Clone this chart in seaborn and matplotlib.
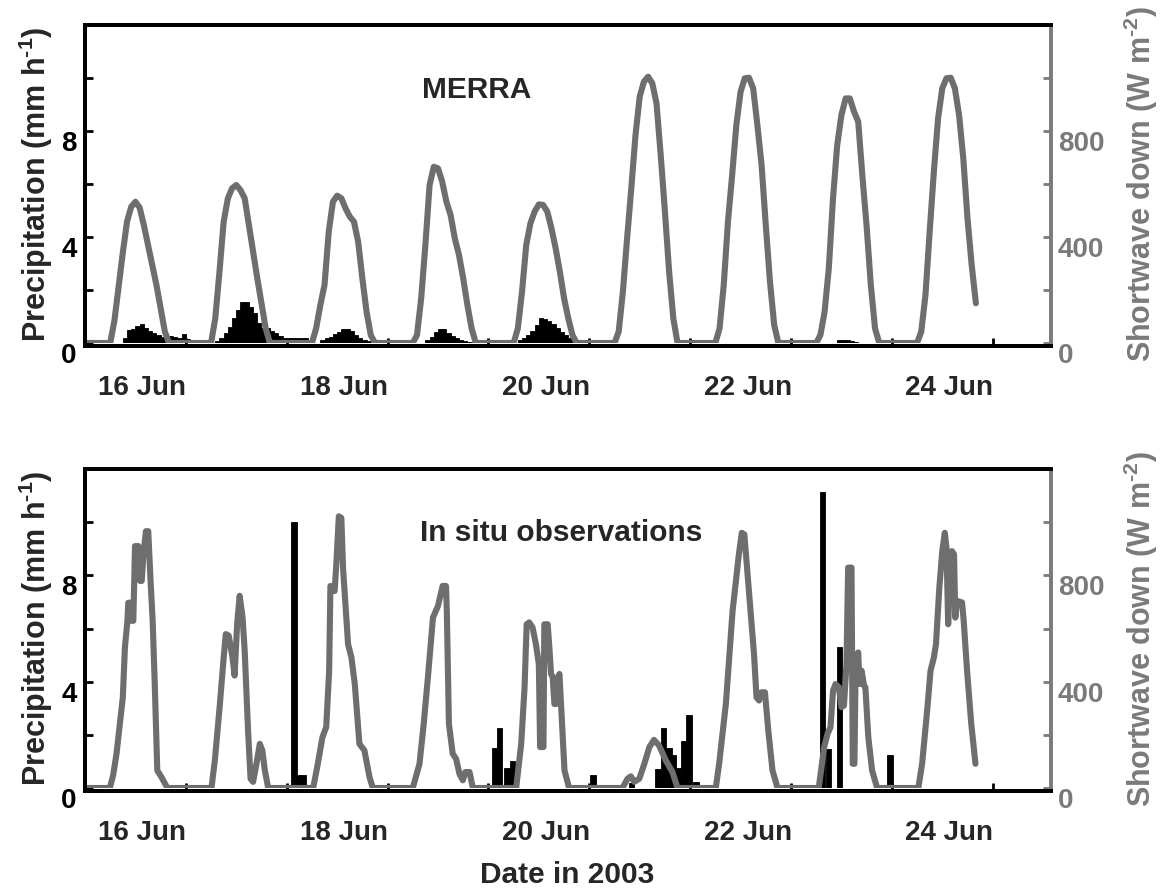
import numpy as np
import matplotlib
matplotlib.use("Agg")
import matplotlib.pyplot as plt
import seaborn as sns

# ---------------- data ----------------
# MERRA hourly shortwave down (W m-2), hour 0..23 of each day
merra_sw_16 = [0, 0, 0, 0, 0, 0, 0, 84, 212, 341, 458, 514, 533, 511, 445, 370, 294, 219, 132, 43, 0, 0, 0, 0]
merra_sw_17 = [0, 0, 0, 0, 0, 0, 0, 93, 269, 458, 546, 584, 596, 577, 546, 445, 345, 244, 150, 55, 0, 0, 0, 0]
merra_sw_18 = [0, 0, 0, 0, 0, 0, 0, 55, 143, 219, 420, 533, 556, 546, 508, 477, 458, 382, 244, 118, 30, 0, 0, 0]
merra_sw_19 = [0, 0, 0, 0, 0, 0, 0, 30, 169, 370, 596, 665, 659, 609, 533, 483, 395, 332, 244, 143, 55, 0, 0, 0]
merra_sw_20 = [0, 0, 0, 0, 0, 0, 0, 55, 194, 370, 452, 496, 523, 521, 496, 433, 357, 269, 169, 93, 30, 0, 0, 0]
merra_sw_21 = [0, 0, 0, 0, 0, 0, 0, 43, 194, 395, 584, 785, 930, 986, 1005, 980, 904, 709, 496, 269, 93, 0, 0, 0]
merra_sw_22 = [0, 0, 0, 0, 0, 0, 0, 55, 219, 458, 634, 823, 948, 999, 1001, 961, 823, 672, 445, 231, 68, 0, 0, 0]
merra_sw_23 = [0, 0, 0, 0, 0, 0, 0, 30, 118, 282, 546, 747, 860, 923, 923, 873, 835, 628, 440, 218, 55, 0, 0, 0]
merra_sw_24 = [0, 0, 0, 0, 0, 0, 0, 43, 181, 420, 647, 848, 961, 999, 1001, 961, 860, 697, 470, 294, 150]

# MERRA hourly precipitation (mm h-1), hour 0..23 of each day
merra_pr_16 = [0, 0, 0, 0, 0, 0, 0, 0, 0, 0.2, 0.49, 0.52, 0.64, 0.70, 0.58, 0.45, 0.36, 0.30, 0.24, 0.22, 0.28, 0.24, 0.2, 0.33]
merra_pr_17 = [0.15, 0.08, 0, 0, 0, 0, 0, 0.08, 0.2, 0.36, 0.62, 0.93, 1.25, 1.53, 1.53, 1.37, 1.12, 0.74, 0.55, 0.55, 0.45, 0.36, 0.28, 0.2]
merra_pr_18 = [0.2, 0.2, 0.2, 0.2, 0.18, 0.11, 0, 0, 0.1, 0.18, 0.24, 0.33, 0.43, 0.52, 0.53, 0.47, 0.3, 0.2, 0.13, 0.08, 0, 0, 0, 0]
merra_pr_19 = [0, 0, 0, 0, 0, 0, 0, 0, 0, 0.1, 0.24, 0.43, 0.53, 0.52, 0.39, 0.28, 0.2, 0.13, 0.08, 0.05, 0, 0, 0, 0]
merra_pr_20 = [0, 0, 0, 0, 0, 0, 0, 0.1, 0.18, 0.3, 0.45, 0.68, 0.96, 0.91, 0.83, 0.7, 0.55, 0.4, 0.3, 0.2, 0.13, 0.08, 0.05, 0]
merra_pr_21 = [0] * 24
merra_pr_22 = [0] * 24
merra_pr_23 = [0, 0, 0, 0, 0, 0, 0, 0, 0, 0, 0, 0.1, 0.12, 0.1, 0.06, 0.04, 0, 0, 0, 0, 0, 0, 0, 0]
merra_pr_24 = [0] * 21

# In situ shortwave down: (hour of day, W m-2) per day
insitu_sw_16_t = [5.9, 6.7, 7.5, 8.3, 9.0, 9.5, 10.1, 10.3, 10.85, 11.1, 11.5, 11.9, 12.7, 13.1, 13.5, 13.9, 14.5, 15.05, 15.6, 16.1, 16.6, 17.2, 18.2, 19.6]
insitu_sw_16_v = [0, 48, 129, 241, 341, 529, 629, 697, 697, 629, 629, 910, 910, 779, 779, 879, 966, 966, 779, 629, 391, 66, 41, 0]
insitu_sw_17_t = [6.1, 6.9, 8.1, 9.0, 9.5, 10.2, 11.1, 11.6, 12.2, 12.8, 13.5, 14.0, 14.8, 15.4, 16.0, 16.8, 17.6, 18.2, 18.8, 19.6]
insitu_sw_17_v = [0, 104, 316, 491, 579, 573, 491, 423, 616, 723, 641, 516, 216, 35, 23, 91, 166, 141, 66, 0]
insitu_sw_18_t = [6.3, 7.4, 8.5, 9.4, 10.1, 10.4, 11.4, 11.8, 12.4, 13.0, 13.4, 14.6, 15.4, 16.2, 17.3, 18.5, 19.7, 20.5]
insitu_sw_18_v = [0, 91, 191, 229, 441, 760, 741, 841, 1022, 1016, 829, 541, 491, 391, 166, 141, 41, 0]
insitu_sw_19_t = [6.0, 7.6, 8.6, 9.6, 10.8, 12.0, 13.1, 13.9, 14.1, 14.6, 15.5, 16.3, 17.1, 17.9, 18.5, 19.5, 20.3]
insitu_sw_19_v = [0, 91, 241, 416, 641, 685, 760, 760, 666, 241, 129, 110, 54, 29, 60, 60, 0]
insitu_sw_20_t = [6.6, 7.8, 8.6, 9.1, 9.7, 10.5, 11.3, 12.0, 12.3, 13.1, 13.3, 14.1, 14.5, 14.9, 15.3, 15.7, 16.1, 16.5, 16.9, 18.1, 19.2]
insitu_sw_20_v = [0, 166, 379, 616, 623, 604, 541, 466, 154, 154, 616, 616, 529, 429, 416, 316, 316, 416, 429, 66, 0]
insitu_sw_21_t = [7.9, 9.1, 9.9, 10.7, 11.9, 13.1, 14.3, 15.4, 16.6, 18.2, 19.8, 21.0]
insitu_sw_21_v = [0, 35, 44, 23, 35, 91, 154, 181, 160, 104, 60, 0]
insitu_sw_22_t = [6.1, 6.9, 8.5, 10.1, 11.6, 12.3, 12.9, 13.6, 14.4, 15.2, 15.8, 16.4, 17.0, 17.8, 18.6, 19.6, 20.8]
insitu_sw_22_v = [0, 91, 316, 666, 879, 960, 954, 816, 654, 504, 341, 329, 360, 360, 216, 66, 0]
insitu_sw_23_t = [6.6, 7.9, 8.7, 9.4, 10.0, 10.6, 11.4, 12.0, 12.6, 13.2, 13.6, 14.4, 14.6, 14.7, 15.1, 15.4, 16.0, 16.3, 16.8, 17.4, 17.7, 18.4, 19.3, 20.5]
insitu_sw_23_v = [0, 154, 204, 229, 366, 391, 379, 304, 310, 466, 829, 829, 316, 91, 91, 491, 510, 391, 441, 385, 379, 191, 66, 0]
insitu_sw_24_t = [6.3, 7.2, 8.4, 9.2, 10.0, 10.5, 11.3, 12.0, 12.6, 13.0, 13.4, 13.9, 14.3, 14.8, 15.1, 15.5, 16.7, 17.1, 17.9, 18.9, 19.9]
insitu_sw_24_v = [0, 91, 291, 441, 491, 541, 754, 891, 960, 904, 616, 816, 891, 879, 641, 704, 698, 629, 441, 241, 91]

# In situ precipitation: hours since 16 Jun 00:00 and mm h-1
insitu_pr_hours = [49.7, 50.9, 52.0, 97.6, 98.6, 100.4, 101.7, 120.9, 130.0, 136.4, 137.6, 139.0,
                   140.1, 141.1, 142.5, 143.7, 145.4, 175.5, 176.9, 179.5, 191.6]
insitu_pr_vals = [10.0, 0.48, 0.48, 1.5, 2.26, 0.75, 1.0, 0.48, 0.2, 0.72, 2.26, 1.51,
                  1.26, 0.75, 1.76, 2.76, 0.22, 11.14, 1.48, 5.29, 1.25]

days = [16, 17, 18, 19, 20, 21, 22, 23, 24]
date_tick_days = [16, 18, 20, 22, 24]
date_labels = ["16 Jun", "18 Jun", "20 Jun", "22 Jun", "24 Jun"]
precip_ticks = [0, 2, 4, 6, 8, 10]
precip_labels = ["0", "", "4", "", "8", ""]
sw_ticks = [0, 200, 400, 600, 800, 1000]
sw_labels = ["0", "", "400", "", "800", ""]

# ---------------- assemble series ----------------
merra_sw = np.concatenate([merra_sw_16, merra_sw_17, merra_sw_18, merra_sw_19, merra_sw_20,
                           merra_sw_21, merra_sw_22, merra_sw_23, merra_sw_24])
merra_pr = np.concatenate([merra_pr_16, merra_pr_17, merra_pr_18, merra_pr_19, merra_pr_20,
                           merra_pr_21, merra_pr_22, merra_pr_23, merra_pr_24])
merra_sw_x = 16 + np.arange(len(merra_sw)) / 24.0
merra_pr_x = 16 + (np.arange(len(merra_pr)) + 0.5) / 24.0

ins_t = [insitu_sw_16_t, insitu_sw_17_t, insitu_sw_18_t, insitu_sw_19_t, insitu_sw_20_t,
         insitu_sw_21_t, insitu_sw_22_t, insitu_sw_23_t, insitu_sw_24_t]
ins_v = [insitu_sw_16_v, insitu_sw_17_v, insitu_sw_18_v, insitu_sw_19_v, insitu_sw_20_v,
         insitu_sw_21_v, insitu_sw_22_v, insitu_sw_23_v, insitu_sw_24_v]
ins_sw_x = [16.0]
ins_sw_y = [0.0]
for d, t, v in zip(days, ins_t, ins_v):
    ins_sw_x += [d + h / 24.0 for h in t]
    ins_sw_y += list(v)
ins_sw_x = np.array(ins_sw_x)
ins_sw_y = np.array(ins_sw_y)
ins_pr_x = 16 + np.array(insitu_pr_hours) / 24.0
ins_pr_y = np.array(insitu_pr_vals)

# ---------------- style ----------------
sns.set_style("white")
plt.rcParams["font.family"] = ["Liberation Sans", "DejaVu Sans"]
plt.rcParams["font.weight"] = "bold"
plt.rcParams["mathtext.fontset"] = "custom"
plt.rcParams["mathtext.rm"] = "Liberation Sans:bold"
plt.rcParams["mathtext.it"] = "Liberation Sans:bold"
plt.rcParams["mathtext.bf"] = "Liberation Sans:bold"
plt.rcParams["mathtext.default"] = "rm"

GRAY_LINE = "#6e6e6e"
GRAY_AXIS = "#7a7a7a"
SPINE_W = 2.8
TICK_LEN = 5.8
TICK_FS = 20
LABEL_FS = 22
TEXT_FS = 21.5
XLIM = (16.0, 25.578)
LABEL_OFFSET = 0.57

W, H = 1171, 890
fig = plt.figure(figsize=(W / 100, H / 100), dpi=100)
ax_top = fig.add_axes([85 / W, 1 - 343 / H, 966 / W, 318 / H])
ax_bot = fig.add_axes([85 / W, 1 - 788 / H, 966 / W, 319 / H])


def make_panel(ax, bar_x, bar_y, bar_w, line_x, line_y, title, tx, ty):
    ax.bar(bar_x, bar_y, width=bar_w, color="black", edgecolor="black", linewidth=0.6, align="center")
    ax.set_xlim(*XLIM)
    ax.set_ylim(0, 12)
    ax2 = ax.twinx()
    sns.lineplot(x=line_x, y=line_y, ax=ax2, color=GRAY_LINE, linewidth=4.4,
                 estimator=None, sort=False)
    ax2.set_ylim(0, 1200)
    ax2.set_xlim(*XLIM)

    # spines
    for a in (ax, ax2):
        for s in a.spines.values():
            s.set_linewidth(SPINE_W)
            s.set_color("black")
        a.spines["bottom"].set_position(("outward", 2))
    ax.spines["right"].set_visible(False)
    ax2.spines["right"].set_color(GRAY_AXIS)

    # x ticks
    ax.set_xticks(np.arange(16, 26), minor=True)
    ax.set_xticks([d + LABEL_OFFSET for d in date_tick_days])
    ax.set_xticklabels(date_labels)
    ax.tick_params(axis="x", which="major", bottom=True, length=0, pad=21, labelsize=TICK_FS)
    ax.tick_params(axis="x", which="minor", bottom=True, direction="in", length=TICK_LEN,
                   width=2, color="black")

    # left y ticks
    ax.set_yticks(precip_ticks)
    ax.set_yticklabels(precip_labels)
    ax.tick_params(axis="y", which="major", left=True, right=False, direction="in",
                   length=TICK_LEN, width=2, pad=6, labelsize=TICK_FS, colors="black")
    plt.setp(ax.get_yticklabels(), va="top")

    # right y ticks
    ax2.set_yticks(sw_ticks)
    ax2.set_yticklabels(sw_labels)
    ax2.tick_params(axis="y", which="major", right=True, left=False, direction="in",
                    length=TICK_LEN, width=2, pad=5, labelsize=TICK_FS, colors=GRAY_AXIS)
    plt.setp(ax2.get_yticklabels(), va="top")

    ax.set_xlabel("")
    ax.set_ylabel("Precipitation (mm h$^{\\text{-1}}$)", fontsize=LABEL_FS, fontweight="bold")
    ax.yaxis.set_label_coords(-0.031, 0.5)
    ax2.set_ylabel("Shortwave down (W m$^{\\text{-2}}$)", fontsize=LABEL_FS, fontweight="bold",
                   color=GRAY_AXIS)
    ax2.yaxis.set_label_coords(1.0735, 0.5)

    ax.text(tx, ty, title, transform=ax.transAxes, ha="center", va="baseline",
            fontsize=TEXT_FS, fontweight="bold")
    return ax2


make_panel(ax_top, merra_pr_x, merra_pr, 1 / 24.0, merra_sw_x, merra_sw, "MERRA", 0.4058, 0.7695)
make_panel(ax_bot, ins_pr_x, ins_pr_y, 1.3 / 24.0, ins_sw_x, ins_sw_y, "In situ observations", 0.4928, 0.774)

fig.text(567.5 / W, 1 - 883 / H, "Date in 2003", ha="center", va="baseline",
         fontsize=TEXT_FS, fontweight="bold")

fig.savefig("out.png", dpi=100, facecolor="white")
